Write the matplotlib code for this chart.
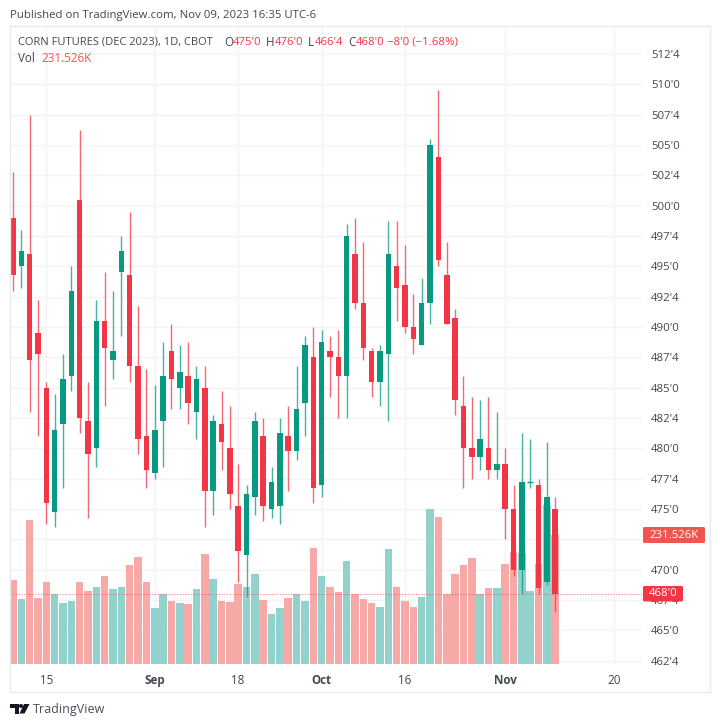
import matplotlib
matplotlib.use("Agg")
from matplotlib import pyplot as plt
from matplotlib.patches import Rectangle, FancyBboxPatch, Polygon, Circle

plt.rcParams['font.family'] = ['Open Sans', 'DejaVu Sans']

opens = [499, 495, 496, 489.5, 485, 474.75, 482, 486, 500.5, 482.25, 480, 490.5, 487.25, 494.5, 494.25, 486.75,
         481, 478, 482.25, 488, 485, 486, 483, 485, 476.5, 482, 480, 475.25, 471.25, 476, 481, 475, 475.25, 481,
         479.75, 483.75, 487.5, 477, 488, 487.5, 486, 496, 492, 488, 485.5, 487.75, 495, 493.5, 490, 488.5, 492,
         504, 494.25, 490.75, 483.5, 480, 479.25, 480, 478.25, 478.75, 475, 470, 477.25, 477, 469, 475]
highs = [502.75, 498, 507.5, 492.25, 485.5, 484.5, 487.75, 495, 506.25, 485.5, 492.25, 494.5, 493, 497.5, 499.5, 491.75,
         486.5, 485.25, 488.75, 490.25, 488.5, 488.75, 486.75, 486.75, 482.75, 484.75, 483.5, 478.75, 477, 483, 482.5, 478.5, 482.5, 483.5,
         486.75, 489.25, 490, 489.75, 489.25, 489.75, 498.5, 499, 497, 488.25, 488.5, 498.75, 498.75, 496.75, 492.75, 494, 505.5,
         509.5, 497, 491.5, 486, 484.25, 484, 484.25, 483, 480, 477, 481.25, 480.75, 477.5, 480.5, 476]
lows = [493, 493.25, 483, 481, 473.75, 473.5, 476.75, 484.75, 481.25, 474.25, 478.5, 483.5, 485.75, 489.25, 485.5, 479.5,
        476.75, 477.5, 478.5, 483.25, 483.25, 482, 480.75, 473.5, 474.5, 478.25, 475, 469, 467.75, 474.5, 474, 474.25, 473.75, 476.5,
        479, 481, 475.5, 476, 484.25, 482.5, 482.5, 491.5, 487.25, 484.25, 483.5, 482.25, 490.5, 489.5, 487.75, 488.5, 490.25,
        495, 490.25, 482.75, 476.75, 477.5, 478.25, 477.5, 477.5, 472.5, 469.5, 468, 476.75, 468, 468.75, 466.5]
closes = [494.25, 496.25, 487.25, 487.75, 475.5, 481.5, 485.75, 493, 482.5, 479.5, 490.5, 488.25, 488, 496.25, 486.75, 480.75,
          478.25, 481.5, 486, 485.75, 486.25, 483.75, 485.75, 476.5, 482.25, 480.5, 476.25, 471.5, 476.25, 482.25, 475.25, 477.25, 481.25, 479.75,
          483.25, 488.5, 476.75, 488.75, 487.5, 486, 497.5, 492, 488.25, 485.5, 488, 496, 493.25, 490, 489, 492, 505,
          495.5, 490.25, 484, 480, 479.25, 480.75, 478.25, 478.75, 475, 470, 477.25, 477.25, 468.5, 476, 468]
volumes = [151, 117, 259, 118, 148, 126, 110, 113, 148, 131, 138, 159, 135, 139, 178, 192,
           148, 101, 125, 114, 110, 107, 134, 198, 152, 114, 111, 144, 139, 162, 115, 89, 101, 118,
           125, 114, 209, 159, 138, 130, 186, 125, 116, 110, 103, 207, 138, 114, 103, 120, 278,
           264, 126, 161, 178, 191, 126, 137, 137, 180, 202, 200, 132, 179, 285, 231.526]

price_ticks = [462.5, 465, 467.5, 470, 472.5, 475, 477.5, 480, 482.5, 485, 487.5, 490, 492.5, 495, 497.5,
               500, 502.5, 505, 507.5, 510, 512.5]
hidden_ticks = [472.5]  # sits fully behind the volume tag
date_ticks = [4, 17, 27, 37, 47, 59, 72]
date_labels = ["15", "Sep", "18", "Oct", "16", "Nov", "20"]
bold_dates = ["Sep", "Oct", "Nov"]

RED = "#F23645"
GREEN = "#089981"
VOL_RED = "#F7A9A7"
VOL_GREEN = "#92D2CC"
TEXT = "#434651"
W, H = 720, 726


def px_text(x, y, s, color=TEXT, size=8.4, **kw):
    # place text by pixel position in the figure, y counted from the top
    return fig.text(x / W, 1 - y / H, s, color=color, fontsize=size, va="center", **kw)


def price_label(p):
    whole = int(p)
    return "%d'%d" % (whole, round((p - whole) * 8))


fig = plt.figure(figsize=(7.2, 7.26), dpi=100)
fig.patch.set_facecolor("white")

# outer frame of the chart
fig.add_artist(Rectangle((10 / W, 1 - 691.5 / H), 700 / W, 665.5 / H, transform=fig.transFigure,
                         fill=False, edgecolor="#E8E9EE", linewidth=1))

pos = [10 / W, 1 - 664 / H, 632 / W, 638 / H]
grid_ax = fig.add_axes(pos)
vol_ax = fig.add_axes(pos, sharex=grid_ax)
ax = fig.add_axes(pos, sharex=grid_ax)
vol_ax.patch.set_visible(False)
ax.patch.set_visible(False)
vol_ax.set_ylim(0, 1147)
ax.set_xlim(-0.35, 75.4)
ax.set_ylim(462.23, 514.8)
grid_ax.set_ylim(462.23, 514.8)

# grid goes on the lowest axes so the bars cover it
grid_ax.set_yticks(price_ticks)
grid_ax.set_xticks(date_ticks)
grid_ax.grid(color="#F3F3F5", linewidth=1)
grid_ax.tick_params(length=0, labelleft=False, labelbottom=False)
vol_ax.set_yticks([])

for i in range(len(opens)):
    up = closes[i] >= opens[i]
    vol_ax.bar(i, volumes[i], width=0.9, color=VOL_GREEN if up else VOL_RED, edgecolor="none")
    color = GREEN if up else RED
    ax.vlines(i, lows[i], highs[i], color=color, linewidth=1, alpha=0.75, zorder=2)
    bottom = min(opens[i], closes[i])
    height = abs(closes[i] - opens[i])
    if height == 0:
        ax.hlines(opens[i], i - 0.33, i + 0.33, color=color, linewidth=1, zorder=3)
    else:
        ax.bar(i, height, bottom=bottom, width=0.66, color=color, edgecolor="none", zorder=3)

# last price line
ax.axhline(closes[-1], color="#F7525F", linewidth=0.8, linestyle=(0, (1, 1.5)), alpha=0.7, zorder=4)

for a in (ax, vol_ax, grid_ax):
    for side in a.spines:
        a.spines[side].set_visible(False)

ax.yaxis.tick_right()
ax.set_yticks(price_ticks)
ax.set_yticklabels(["" if p in hidden_ticks else price_label(p) for p in price_ticks])
ax.tick_params(axis="y", length=0, pad=6.5, labelsize=8.2, labelcolor=TEXT)
ax.tick_params(axis="x", length=0, pad=7, labelsize=8.4, labelcolor=TEXT)
ax.set_xticks(date_ticks)
ax.set_xticklabels(date_labels)
for lbl in ax.get_xticklabels():
    if lbl.get_text() in bold_dates:
        lbl.set_fontweight("bold")
vol_ax.tick_params(axis="x", labelbottom=False, length=0)

# price and volume tags on the axis
fig.add_artist(FancyBboxPatch((643 / W, 1 - 543 / H), 62 / W, 16 / H, transform=fig.transFigure,
                              boxstyle="round,pad=0,rounding_size=0.002", facecolor="#F05650", edgecolor="none"))
px_text(674, 535, "231.526K", color="white", size=8.2, ha="center")
fig.add_artist(FancyBboxPatch((643 / W, 1 - 601.5 / H), 40 / W, 15.5 / H, transform=fig.transFigure,
                              boxstyle="round,pad=0,rounding_size=0.002", facecolor="#F23645", edgecolor="none"))
px_text(663, 594, price_label(closes[-1]), color="white", size=8.2, ha="center")

# header text
px_text(10, 15.5, "Published on TradingView.com, Nov 09, 2023 16:35 UTC-6", size=8.2)
px_text(18, 42.5, "CORN FUTURES (DEC 2023), 1D, CBOT", size=8.05)
ohlc = [(224, "O", 233, price_label(opens[-1])), (266, "H", 274.5, price_label(highs[-1])),
        (308, "L", 314.5, price_label(lows[-1])), (348, "C", 356, price_label(closes[-1]))]
for x1, name, x2, value in ohlc:
    px_text(x1, 42.5, name)
    px_text(x2, 42.5, value, color=RED, size=8.2)
px_text(387, 42.5, "\u22128'0 (\u22121.68%)", color=RED, size=8.2)
px_text(18, 59, "Vol")
px_text(41, 59, "231.526K", color="#F05650")

# TradingView logo
logo = "#131722"
fig.add_artist(Polygon([(10 / W, 1 - 704 / H), (18.5 / W, 1 - 704 / H), (18.5 / W, 1 - 713.5 / H),
                        (14.5 / W, 1 - 713.5 / H), (14.5 / W, 1 - 708 / H), (10 / W, 1 - 708 / H)],
                       closed=True, transform=fig.transFigure, facecolor=logo, edgecolor="none"))
fig.add_artist(Polygon([(24 / W, 1 - 704 / H), (29.5 / W, 1 - 704 / H), (24.5 / W, 1 - 713.5 / H),
                        (19.5 / W, 1 - 713.5 / H)],
                       closed=True, transform=fig.transFigure, facecolor=logo, edgecolor="none"))
fig.add_artist(Circle((21 / W, 1 - 706 / H), 0.0028, transform=fig.transFigure, facecolor=logo, edgecolor="none"))
px_text(33, 709, "TradingView", color="#4A4E59", size=9)

fig.savefig("out.png", dpi=100)
